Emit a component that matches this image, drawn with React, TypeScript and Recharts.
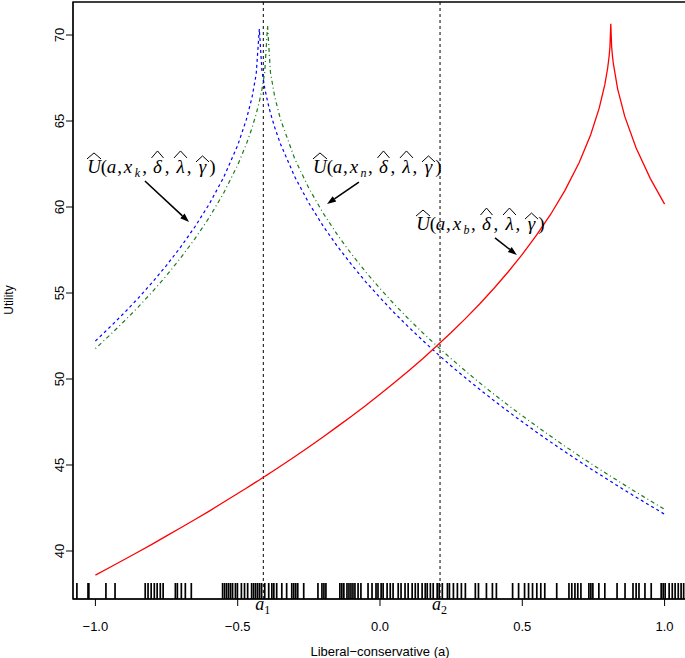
import {
  ComposedChart,
  Line,
  ReferenceArea,
  ReferenceDot,
  ReferenceLine,
  Scatter,
  XAxis,
  YAxis,
} from "recharts";

// ideology grid (a) and utility curves
const utilityGrid = [
  -1, -0.95, -0.9, -0.85, -0.8, -0.75, -0.7, -0.65, -0.6, -0.55, -0.5,
  -0.47, -0.45, -0.435, -0.424, -0.415, -0.405, -0.395, -0.385, -0.37, -0.35,
  -0.3, -0.25, -0.2, -0.15, -0.1, -0.05, 0, 0.05, 0.1, 0.15, 0.2, 0.25, 0.3,
  0.35, 0.4, 0.45, 0.5, 0.55, 0.6, 0.65, 0.7,
  0.74, 0.77, 0.79, 0.8, 0.805, 0.808, 0.811, 0.814, 0.817, 0.82, 0.835, 0.86,
  0.9, 0.95, 1,
];

const uXk = [
  52.21, 53.0, 53.82, 54.69, 55.62, 56.61, 57.68, 58.86, 60.17, 61.7, 63.59,
  65.06, 66.35, 67.72, 70.35, 67.96, 66.91, 66.13, 65.47, 64.63, 63.68,
  61.77, 60.23, 58.9, 57.72, 56.65, 55.65, 54.73, 53.85, 53.03, 52.24, 51.49,
  50.76, 50.07, 49.4, 48.75, 48.12, 47.51, 46.91, 46.33, 45.77, 45.22,
  44.78, 44.47, 44.26, 44.15, 44.1, 44.07, 44.04, 44.01, 43.98, 43.94, 43.79,
  43.53, 43.13, 42.63, 42.14,
];

const uXn = [
  51.77, 52.54, 53.34, 54.18, 55.07, 56.02, 57.05, 58.16, 59.39, 60.79, 62.44,
  63.64, 64.58, 65.41, 66.13, 66.82, 67.84, 70.55, 67.84, 66.42, 65.12,
  62.82, 61.09, 59.65, 58.39, 57.26, 56.22, 55.26, 54.35, 53.5, 52.69, 51.92,
  51.18, 50.47, 49.78, 49.12, 48.48, 47.86, 47.26, 46.67, 46.09, 45.53,
  45.1, 44.77, 44.56, 44.46, 44.41, 44.37, 44.34, 44.31, 44.28, 44.25, 44.09,
  43.83, 43.42, 42.92, 42.42,
];

const uXb = [
  38.6, 39.04, 39.49, 39.94, 40.4, 40.88, 41.35, 41.83, 42.32, 42.83, 43.34,
  43.65, 43.86, 44.02, 44.13, 44.23, 44.33, 44.44, 44.55, 44.71, 44.93,
  45.48, 46.05, 46.63, 47.23, 47.83, 48.46, 49.11, 49.78, 50.47, 51.18, 51.93,
  52.7, 53.51, 54.36, 55.26, 56.22, 57.24, 58.36, 59.58, 60.97, 62.59,
  64.19, 65.73, 67.11, 68.08, 68.75, 69.3, 70.65, 69.3, 68.75, 68.33, 66.87,
  65.27, 63.43, 61.65, 60.17,
];

// rug of observed ideal points
const rugPositions = [
  -1.065, -1.026, -1.023, -0.963, -0.931, -0.825, -0.815, -0.804, -0.793,
  -0.783, -0.772, -0.762, -0.719, -0.712, -0.698, -0.684, -0.663, -0.553,
  -0.546, -0.539, -0.532, -0.525, -0.518, -0.508, -0.501, -0.487, -0.476,
  -0.465, -0.451, -0.444, -0.437, -0.43, -0.423, -0.416, -0.405, -0.391,
  -0.38, -0.373, -0.363, -0.345, -0.328, -0.31, -0.303, -0.296, -0.289,
  -0.268, -0.218, -0.204, -0.197, -0.19, -0.141, -0.134, -0.127, -0.116,
  -0.109, -0.102, -0.095, -0.088, -0.077, -0.067, -0.042, -0.028, -0.014,
  -0.007, 0.004, 0.011, 0.025, 0.036, 0.046, 0.064, 0.074, 0.088, 0.099,
  0.113, 0.124, 0.134, 0.148, 0.159, 0.166, 0.177, 0.187, 0.201, 0.208,
  0.219, 0.237, 0.244, 0.258, 0.272, 0.286, 0.3, 0.335, 0.346, 0.374, 0.395,
  0.409, 0.466, 0.487, 0.508, 0.522, 0.536, 0.551, 0.565, 0.579, 0.621,
  0.664, 0.674, 0.685, 0.695, 0.706, 0.734, 0.741, 0.748, 0.769, 0.79, 0.833,
  0.861, 0.889, 0.9, 0.91, 0.931, 0.953, 0.988, 0.995, 1.002, 1.016, 1.027,
  1.037, 1.048, 1.058, 1.067,
];

const cutpoints = [
  { name: "1", a: -0.41 },
  { name: "2", a: 0.211 },
];

const xTicks = [-1, -0.5, 0, 0.5, 1];
const yTicks = [40, 45, 50, 55, 60, 65, 70];

// label anchor (left end of baseline), arrow tail and arrow head, in data units
const annotations = [
  { sub: "k", text: [-1.033, 61.98], tail: [-0.826, 61.51], head: [-0.671, 59.13] },
  { sub: "n", text: [-0.239, 61.98], tail: [-0.074, 61.45], head: [-0.186, 60.17] },
  { sub: "b", text: [0.123, 58.66], tail: [0.404, 58.2], head: [0.481, 57.21] },
];

const X_DOMAIN: [number, number] = [-1.0787, 1.0893];
const Y_DOMAIN: [number, number] = [37.209, 71.919];

const SANS = "'Liberation Sans', Arial, Helvetica, sans-serif";
const SERIF = "'Liberation Serif', 'Times New Roman', serif";

const fmtTick = (v: number) =>
  v < 0 ? `\u2212${Math.abs(v).toFixed(1)}` : v.toFixed(1);

function YTick({ x, y, payload }: any) {
  return (
    <text
      x={x}
      y={y}
      transform={`rotate(-90 ${x} ${y})`}
      textAnchor="middle"
      fontFamily={SANS}
      fontSize={13}
      fill="#000"
    >
      {payload.value}
    </text>
  );
}

// glyph layout of  U^(a, x_s, δ^, λ^, γ^)  relative to the label anchor
const glyphs = [
  { ch: "U", at: 8, italic: true, hat: [1, 15, -20, -14] },
  { ch: "(", at: 18 },
  { ch: "a", at: 25.5, italic: true },
  { ch: ",", at: 33.5 },
  { ch: "x", at: 42, italic: true },
  { ch: "SUB", at: 51.5, italic: true, sub: true },
  { ch: ",", at: 58.5 },
  { ch: "\u03B4", at: 71.5, italic: true, hat: [65.5, 77.5, -22, -15] },
  { ch: ",", at: 81 },
  { ch: "\u03BB", at: 94.5, italic: true, hat: [88, 101, -22, -15] },
  { ch: ",", at: 103 },
  { ch: "\u03B3", at: 116.5, italic: true, hat: [110, 123, -17, -11] },
  { ch: ")", at: 126.5 },
];

function UtilityLabel({ cx, cy, sub }: any) {
  return (
    <g>
      {glyphs.map((g, i) => (
        <text
          key={i}
          x={cx + g.at}
          y={cy + (g.sub ? 4 : 0)}
          textAnchor="middle"
          fontFamily={SERIF}
          fontSize={g.sub ? 12 : 19}
          fontStyle={g.italic ? "italic" : "normal"}
          fill="#000"
        >
          {g.ch === "SUB" ? sub : g.ch}
        </text>
      ))}
      {glyphs
        .filter((g) => g.hat)
        .map((g, i) => {
          const [h0, h1, top, foot] = g.hat as number[];
          return (
            <polyline
              key={`h${i}`}
              points={`${cx + h0},${cy + foot} ${cx + (h0 + h1) / 2},${cy + top} ${cx + h1},${cy + foot}`}
              fill="none"
              stroke="#000"
              strokeWidth={1}
            />
          );
        })}
    </g>
  );
}

function Arrow({ x1, y1, x2, y2 }: any) {
  const ang = Math.atan2(y2 - y1, x2 - x1);
  const len = 9;
  const half = 3.2;
  const bx = x2 - len * Math.cos(ang);
  const by = y2 - len * Math.sin(ang);
  const px = -Math.sin(ang) * half;
  const py = Math.cos(ang) * half;
  return (
    <g>
      <line x1={x1} y1={y1} x2={bx} y2={by} stroke="#000" strokeWidth={1.6} />
      <polygon
        points={`${x2},${y2} ${bx + px},${by + py} ${bx - px},${by - py}`}
        fill="#000"
      />
    </g>
  );
}

function CutLabel({ cx, cy, name }: any) {
  return (
    <text x={cx - 8} y={cy + 11} fontFamily={SERIF} fontSize={18} fill="#000">
      <tspan fontStyle="italic">a</tspan>
      <tspan fontSize={12} dy={4}>
        {name}
      </tspan>
    </text>
  );
}

export default function App() {
  const table = utilityGrid.map((a, i) => ({
    a,
    xk: uXk[i],
    xn: uXn[i],
    xb: uXb[i],
  }));
  const rug = rugPositions.map((a) => ({ a, u: Y_DOMAIN[0] }));

  return (
    <div
      style={{
        position: "absolute",
        left: 0,
        top: 0,
        width: 685,
        height: 658,
        overflow: "hidden",
        background: "#fff",
      }}
    >
      <ComposedChart
        width={692}
        height={658}
        data={table}
        margin={{ top: 2, right: 2, bottom: 0, left: 0 }}
      >
        <XAxis
          dataKey="a"
          type="number"
          domain={X_DOMAIN}
          allowDataOverflow
          ticks={xTicks}
          tickFormatter={fmtTick}
          tickSize={7}
          tickMargin={16}
          height={59}
          stroke="#000"
          tick={{ fill: "#000", fontSize: 13, fontFamily: SANS }}
          label={{
            content: () => (
              <text
                x={380}
                y={656}
                textAnchor="middle"
                fontFamily={SANS}
                fontSize={13}
                fill="#000"
              >
                {"Liberal\u2212conservative (a)"}
              </text>
            ),
          }}
        />
        <YAxis
          type="number"
          domain={Y_DOMAIN}
          allowDataOverflow
          ticks={yTicks}
          width={73}
          tickSize={7}
          tickMargin={2}
          stroke="#000"
          tick={<YTick />}
          label={{
            content: () => (
              <text
                x={13}
                y={300}
                transform="rotate(-90 13 300)"
                textAnchor="middle"
                fontFamily={SANS}
                fontSize={12}
                fill="#000"
              >
                Utility
              </text>
            ),
          }}
        />
        <ReferenceArea
          x1={X_DOMAIN[0]}
          x2={X_DOMAIN[1]}
          y1={Y_DOMAIN[0]}
          y2={Y_DOMAIN[1]}
          fill="none"
          stroke="#000"
          strokeWidth={1.4}
          ifOverflow="visible"
        />
        {cutpoints.map((c) => (
          <ReferenceLine
            key={c.name}
            x={c.a}
            stroke="#000"
            strokeWidth={1}
            strokeDasharray="3 3"
          />
        ))}
        <Scatter
          data={rug}
          dataKey="u"
          isAnimationActive={false}
          shape={(p: any) => (
            <line
              x1={p.cx}
              x2={p.cx}
              y1={p.cy}
              y2={p.cy - 16}
              stroke="#000"
              strokeWidth={1.7}
            />
          )}
        />
        <Line
          dataKey="xk"
          type="linear"
          stroke="#0000ff"
          strokeWidth={1.2}
          strokeDasharray="3 3"
          dot={false}
          activeDot={false}
          isAnimationActive={false}
        />
        <Line
          dataKey="xn"
          type="linear"
          stroke="#1a7d1a"
          strokeWidth={1.2}
          strokeDasharray="1 3 4 3"
          dot={false}
          activeDot={false}
          isAnimationActive={false}
        />
        <Line
          dataKey="xb"
          type="linear"
          stroke="#ff0000"
          strokeWidth={1.3}
          dot={false}
          activeDot={false}
          isAnimationActive={false}
        />
        {annotations.map((n) => (
          <ReferenceLine
            key={`arrow-${n.sub}`}
            segment={[
              { x: n.tail[0], y: n.tail[1] },
              { x: n.head[0], y: n.head[1] },
            ]}
            shape={(p: any) => <Arrow {...p} />}
            ifOverflow="visible"
          />
        ))}
        {annotations.map((n) => (
          <ReferenceDot
            key={`text-${n.sub}`}
            x={n.text[0]}
            y={n.text[1]}
            ifOverflow="visible"
            shape={(p: any) => <UtilityLabel cx={p.cx} cy={p.cy} sub={n.sub} />}
          />
        ))}
        {cutpoints.map((c) => (
          <ReferenceDot
            key={`cut-${c.name}`}
            x={c.a}
            y={Y_DOMAIN[0]}
            ifOverflow="visible"
            shape={(p: any) => <CutLabel cx={p.cx} cy={p.cy} name={c.name} />}
          />
        ))}
      </ComposedChart>
    </div>
  );
}
